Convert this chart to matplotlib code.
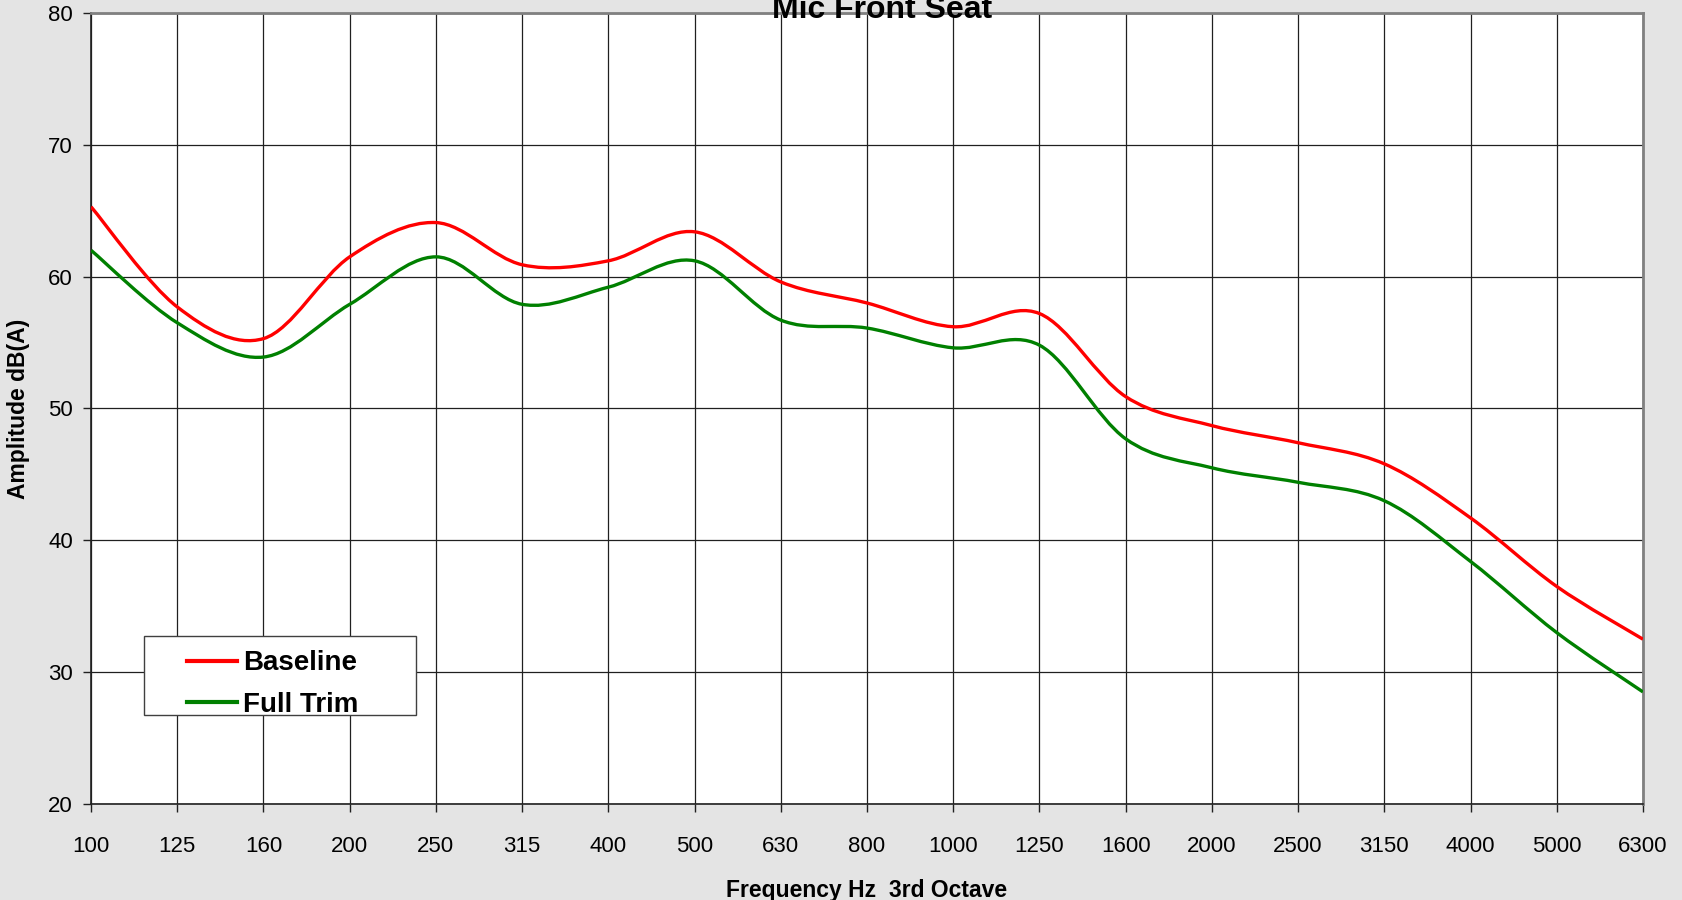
#!/usr/bin/env python3
"""Mic Front Seat - third-octave amplitude, baseline vs full trim."""

import matplotlib
matplotlib.use("Agg")
import matplotlib.pyplot as plt
from matplotlib.path import Path
from matplotlib.patches import PathPatch, Rectangle
from matplotlib.lines import Line2D

plt.rcParams["font.family"] = ["Liberation Sans", "DejaVu Sans"]

bands = ["100", "125", "160", "200", "250", "315", "400", "500", "630", "800",
         "1000", "1250", "1600", "2000", "2500", "3150", "4000", "5000", "6300"]
baseline = [65.3, 57.7, 55.3, 61.5, 64.1, 60.9, 61.2, 63.4, 59.6, 58.0,
            56.2, 57.2, 50.9, 48.7, 47.4, 45.8, 41.7, 36.5, 32.5]
full_trim = [62.0, 56.5, 53.9, 57.9, 61.5, 57.9, 59.2, 61.2, 56.7, 56.1,
             54.6, 54.8, 47.7, 45.5, 44.4, 43.0, 38.4, 33.0, 28.5]


def smooth_path(xs, ys):
    # Excel-style smoothed line: Catmull-Rom converted to cubic Bezier segments
    n = len(xs)
    verts = [(xs[0], ys[0])]
    codes = [Path.MOVETO]
    for i in range(n - 1):
        x0, y0 = (xs[i - 1], ys[i - 1]) if i > 0 else (xs[i], ys[i])
        x1, y1 = xs[i], ys[i]
        x2, y2 = xs[i + 1], ys[i + 1]
        x3, y3 = (xs[i + 2], ys[i + 2]) if i + 2 < n else (x2, y2)
        c1 = (x1 + (x2 - x0) / 6.0, y1 + (y2 - y0) / 6.0)
        c2 = (x2 - (x3 - x1) / 6.0, y2 - (y3 - y1) / 6.0)
        verts += [c1, c2, (x2, y2)]
        codes += [Path.CURVE4] * 3
    return Path(verts, codes)


fig = plt.figure(figsize=(16.83, 9.0), dpi=100, facecolor="#e4e4e4")
ax = fig.add_axes([0.0541, 0.1067, 0.9221, 0.8789])
ax.set_facecolor("white")

x = list(range(len(bands)))
series = [(baseline, "#ff0000", "Baseline"), (full_trim, "#008000", "Full Trim")]
for vals, color, label in series:
    ax.add_patch(PathPatch(smooth_path(x, vals), facecolor="none",
                           edgecolor=color, linewidth=2.4, zorder=3))

ax.set_xlim(0, len(bands) - 1)
ax.set_ylim(20, 80)
ax.set_xticks(x)
ax.set_xticklabels(bands)
ax.set_yticks(range(20, 81, 10))
ax.grid(True, color="#202020", linewidth=0.9)
ax.set_axisbelow(True)

for side in ("left", "bottom"):
    ax.spines[side].set_color("#202020")
    ax.spines[side].set_linewidth(1.2)
for side in ("top", "right"):
    ax.spines[side].set_color("#808080")
    ax.spines[side].set_linewidth(2.0)

ax.tick_params(axis="both", direction="out", length=6, width=1.0,
               color="#202020", labelsize=16)
ax.tick_params(axis="x", pad=17)
ax.tick_params(axis="y", pad=7)

ax.set_xlabel("Frequency Hz  3rd Octave", fontsize=16.5, fontweight="bold")
ax.xaxis.set_label_coords(0.500, -0.109)
ax.xaxis.label.set_va("center")
ax.set_ylabel("Amplitude dB(A)", fontsize=16.5, fontweight="bold")
ax.yaxis.set_label_coords(-0.047, 0.50)
ax.yaxis.label.set_va("center")

fig.text(0.524, 0.98, "Mic Front Seat", ha="center", va="baseline",
         fontsize=23, fontweight="bold")

# legend box drawn separately so its padding matches the original
ax.add_patch(Rectangle((0.0342, 0.1125), 0.1752, 0.0999, transform=ax.transAxes,
                       facecolor="white", edgecolor="#404040", linewidth=1.0,
                       zorder=4))
handles = [Line2D([], [], color=c, linewidth=3.0) for _, c, _ in series]
leg = ax.legend(handles, [lbl for _, _, lbl in series], loc="center left",
                bbox_to_anchor=(0.0619, 0.1517), frameon=False,
                borderaxespad=0, borderpad=0, handlelength=1.8,
                handletextpad=0.22, labelspacing=0.55,
                prop={"size": 20, "weight": "bold"})
leg.set_zorder(5)

fig.savefig("out.png", dpi=100, facecolor=fig.get_facecolor())
